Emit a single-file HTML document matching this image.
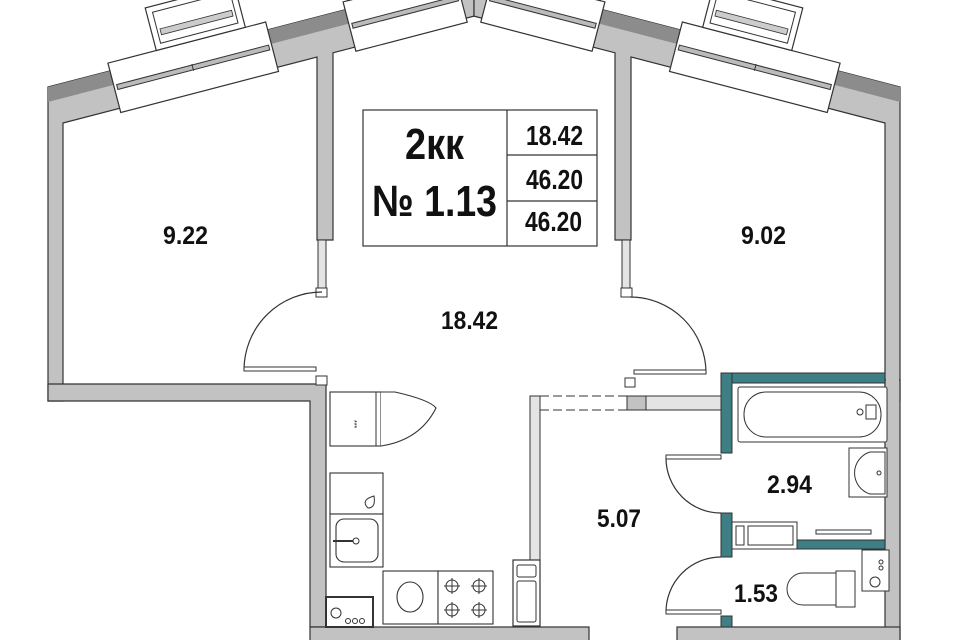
<!DOCTYPE html>
<html><head><meta charset="utf-8"><style>
html,body{margin:0;padding:0;background:#fff;}
svg{display:block}
text{font-family:"Liberation Sans",Arial,sans-serif;font-weight:bold;fill:#111}
</style></head><body>
<svg width="960" height="640" viewBox="0 0 960 640" xmlns="http://www.w3.org/2000/svg">
<defs>
<g id="half">
  <polygon points="48,87 474,-23.8 474,16.1 333,52.8 333,240 317,240 317,57 63,123 63,401 48,401" fill="#c2c2c2" stroke="#333" stroke-width="1.2"/>
  <polygon points="48,87 474,-23.8 474,-9 48,102" fill="#8c8c8c"/>
  <rect x="318" y="240" width="8" height="55" fill="#e4e4e4" stroke="#333" stroke-width="1"/>
  <rect x="316" y="288" width="11" height="9" fill="#fff" stroke="#333" stroke-width="1"/>
  <g transform="translate(48,87) rotate(-14.6)">
    <rect x="64" y="-8" width="163" height="51" fill="#fff" stroke="#333" stroke-width="1.2"/>
    <rect x="67" y="15" width="157" height="5" fill="#bbb" stroke="#333" stroke-width="1"/>
    <line x1="145" y1="14" x2="145" y2="21" stroke="#333"/>
    <rect x="114" y="-52" width="92" height="44" fill="#fff" stroke="#333" stroke-width="1.2"/>
    <rect x="120" y="-46" width="80" height="32" fill="none" stroke="#333" stroke-width="1"/>
    <rect x="123" y="-28" width="74" height="6" fill="#ccc" stroke="#333" stroke-width="0.8"/>
    <rect x="307" y="-8" width="115" height="51" fill="#fff" stroke="#333" stroke-width="1.2"/>
    <rect x="310" y="15" width="109" height="5" fill="#bbb" stroke="#333" stroke-width="1"/>
    <rect x="312" y="-50" width="100" height="42" fill="#fff" stroke="#333" stroke-width="1.2"/>
    <rect x="318" y="-44" width="88" height="30" fill="none" stroke="#333" stroke-width="1"/>
  </g>
</g>
</defs>
<use href="#half"/>
<use href="#half" transform="translate(948,0) scale(-1,1)"/>

<!-- left room bottom wall & kitchen wall -->
<polygon points="48,384 326,384 326,627 310,627 310,401 48,401" fill="#c2c2c2" stroke="#333" stroke-width="1.2"/>
<rect x="316" y="376" width="11" height="9" fill="#fff" stroke="#333" stroke-width="1"/>
<!-- right wall -->
<rect x="885" y="380" width="15" height="262" fill="#c2c2c2" stroke="#333" stroke-width="1.2"/>
<rect x="886" y="370" width="13" height="14" fill="#c2c2c2"/>
<!-- bottom walls -->
<rect x="310" y="627" width="279" height="16" fill="#c2c2c2" stroke="#333" stroke-width="1.2"/>
<rect x="677" y="627" width="223" height="16" fill="#c2c2c2" stroke="#333" stroke-width="1.2"/>

<!-- corridor wall -->
<rect x="530" y="396" width="10" height="219" fill="#e4e4e4" stroke="#333" stroke-width="1"/>
<line x1="540" y1="396" x2="627" y2="396" stroke="#333" stroke-dasharray="9,4"/>
<line x1="540" y1="410" x2="627" y2="410" stroke="#333" stroke-dasharray="9,4"/>
<rect x="627" y="396" width="19" height="14" fill="#c2c2c2" stroke="#333"/>
<rect x="646" y="396" width="75" height="14" fill="#e4e4e4" stroke="#333"/>
<rect x="625" y="378" width="10" height="9" fill="#fff" stroke="#333"/>
<rect x="513" y="560" width="27" height="66" fill="#fff" stroke="#333" stroke-width="1.2"/>
<rect x="517" y="565" width="19" height="12" rx="2" fill="none" stroke="#333"/>
<rect x="517" y="581" width="19" height="41" rx="2" fill="none" stroke="#333"/>

<!-- teal bathroom walls -->
<g fill="#3e7f86" stroke="#333" stroke-width="1">
<rect x="721" y="373" width="164" height="10"/>
<rect x="721" y="373" width="11" height="80"/>
<rect x="721" y="513" width="11" height="44"/>
<rect x="797" y="540" width="88" height="9"/>
<rect x="721" y="616" width="11" height="11"/>
</g>
<rect x="732" y="522" width="65" height="27" fill="#fff" stroke="#333"/>
<rect x="736" y="526" width="8" height="19" fill="none" stroke="#333"/>
<rect x="748" y="526" width="45" height="19" fill="none" stroke="#333"/>
<!-- bath -->
<rect x="738" y="387" width="149" height="55" rx="2" fill="#fff" stroke="#333"/>
<rect x="744" y="392" width="137" height="45" rx="22" fill="none" stroke="#333"/>
<circle cx="860" cy="412" r="3" fill="none" stroke="#333"/>
<rect x="866" y="405" width="10" height="14" fill="none" stroke="#333"/>
<!-- sink -->
<rect x="849" y="448" width="38" height="49" fill="#fff" stroke="#333"/>
<path d="M885,452 L870,452 A22,22 0 0 0 870,494 L885,494 Z" fill="none" stroke="#333"/>
<circle cx="879" cy="473" r="2" fill="none" stroke="#333"/>
<!-- rail -->
<rect x="816" y="530" width="55" height="4" fill="#fff" stroke="#333"/>
<!-- toilet -->
<rect x="836" y="571" width="19" height="36" fill="#fff" stroke="#333"/>
<path d="M836,573 L803,573 A16,16 0 0 0 803,605 L836,605" fill="none" stroke="#333"/>
<rect x="862" y="550" width="27" height="41" fill="#fff" stroke="#333"/>
<circle cx="875" cy="582" r="5" fill="none" stroke="#333"/>
<circle cx="881" cy="562" r="2" fill="none" stroke="#333"/>
<circle cx="881" cy="568" r="2" fill="none" stroke="#333"/>

<!-- doors -->
<g fill="none" stroke="#333" stroke-width="1.2">
<path d="M244,370 A78,78 0 0 1 322,292"/>
<path d="M630,297 A76,76 0 0 1 706,373"/>
<path d="M666,458 A55,55 0 0 0 721,513"/>
<path d="M666,612 A55,55 0 0 1 721,557"/>
</g>
<g fill="#fff" stroke="#333">
<rect x="244" y="367" width="72" height="4"/>
<rect x="634" y="370" width="72" height="4"/>
<rect x="666" y="455" width="55" height="4"/>
<rect x="666" y="610" width="55" height="4"/>
</g>

<!-- kitchen -->
<g fill="#fff" stroke="#333" stroke-width="1.1">
<rect x="330" y="392" width="51" height="54"/>
<path d="M381,392 L395,392 Q430,400 436,408 Q420,440 381,446"/>
<rect x="330" y="473" width="53" height="41"/>
<rect x="330" y="514" width="53" height="53"/>
<rect x="336" y="519" width="42" height="43" rx="8"/>
<rect x="383" y="571" width="55" height="53"/>
<ellipse cx="410" cy="597" rx="13" ry="15"/>
<rect x="438" y="571" width="55" height="53"/>
<rect x="326" y="597" width="47" height="30" stroke-width="2"/>
</g>
<line x1="376" y1="392" x2="376" y2="446" stroke="#333"/>
<path d="M374,496 Q360,500 368,508 Q376,508 374,496Z" fill="none" stroke="#333"/>
<line x1="333" y1="541" x2="354" y2="541" stroke="#333" stroke-width="2"/>
<circle cx="356" cy="541" r="3" fill="#fff" stroke="#333"/>
<text x="352" y="420" font-size="7" transform="rotate(90 352 420)" style="font-weight:normal">***</text>
<g fill="none" stroke="#333">
<circle cx="452" cy="586" r="6"/><circle cx="479" cy="586" r="6"/>
<circle cx="452" cy="610" r="6"/><circle cx="479" cy="610" r="6"/>
<path d="M444,586h16M452,578v16M471,586h16M479,578v16M444,610h16M452,602v16M471,610h16M479,602v16"/>
<circle cx="336" cy="613" r="5"/><circle cx="348" cy="621" r="2.5"/><circle cx="355" cy="621" r="2.5"/><circle cx="362" cy="621" r="2.5"/>
</g>

<!-- title table -->
<rect x="363" y="110" width="234" height="136" fill="#fff" stroke="#333" stroke-width="1.2"/>
<line x1="507" y1="110" x2="507" y2="246" stroke="#333" stroke-width="1.2"/>
<line x1="507" y1="155" x2="597" y2="155" stroke="#333" stroke-width="1.2"/>
<line x1="507" y1="201" x2="597" y2="201" stroke="#333" stroke-width="1.2"/>
<text x="405" y="159" font-size="44" textLength="59" lengthAdjust="spacingAndGlyphs">2кк</text>
<text x="372" y="216" font-size="44" textLength="125" lengthAdjust="spacingAndGlyphs">№ 1.13</text>
<text x="526" y="145" font-size="28" textLength="57" lengthAdjust="spacingAndGlyphs">18.42</text>
<text x="526" y="189" font-size="28" textLength="57" lengthAdjust="spacingAndGlyphs">46.20</text>
<text x="525" y="231" font-size="28" textLength="57" lengthAdjust="spacingAndGlyphs">46.20</text>

<!-- room labels -->
<g font-size="25">
<text x="163" y="244" textLength="45" lengthAdjust="spacingAndGlyphs">9.22</text>
<text x="741" y="244" textLength="45" lengthAdjust="spacingAndGlyphs">9.02</text>
<text x="441" y="329" textLength="57" lengthAdjust="spacingAndGlyphs">18.42</text>
<text x="597" y="527" textLength="44" lengthAdjust="spacingAndGlyphs">5.07</text>
<text x="767" y="493" textLength="45" lengthAdjust="spacingAndGlyphs">2.94</text>
<text x="734" y="602" textLength="44" lengthAdjust="spacingAndGlyphs">1.53</text>
</g>
</svg>
</body></html>
